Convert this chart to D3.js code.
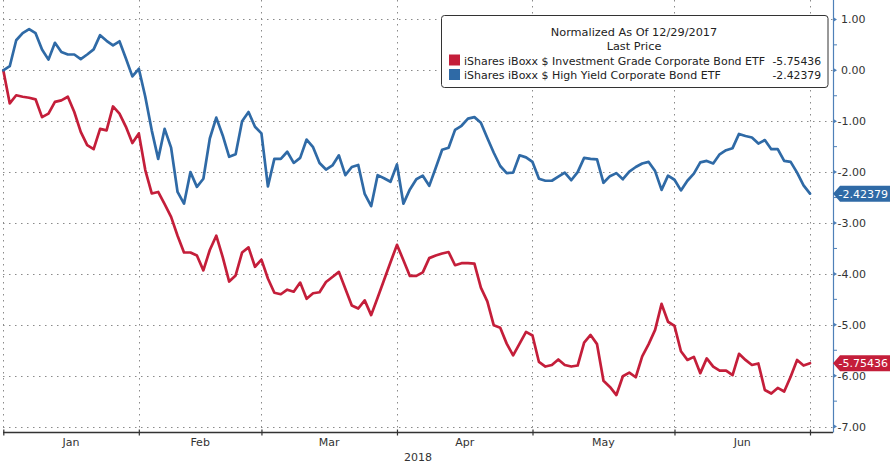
<!DOCTYPE html>
<html>
<head>
<meta charset="utf-8">
<script src="https://cdn.jsdelivr.net/npm/d3@7/dist/d3.min.js"></script>
<style>
html,body{margin:0;padding:0;background:#fff;}
svg{display:block;font-family:"DejaVu Sans",Verdana,sans-serif;}
</style>
</head>
<body>
<svg id="chart" width="890" height="466"></svg>
<script>
// ---- data (normalized % change since 12/29/2017, one value per trading day) ----
const highYield = [0, 0.08, 0.59, 0.73, 0.81, 0.73, 0.41, 0.21, 0.54, 0.36,
 0.31, 0.31, 0.22, 0.31, 0.41, 0.69, 0.58, 0.49, 0.57, 0.23,
 -0.12, 0.03, -0.52, -1.18, -1.74, -1.15, -1.52, -2.39, -2.62, -2.0,
 -2.29, -2.13, -1.34, -0.93, -1.28, -1.70, -1.65, -1.0, -0.82, -1.11,
 -1.24, -2.28, -1.74, -1.74, -1.60, -1.82, -1.72, -1.36, -1.51, -1.82,
 -1.95, -1.87, -1.67, -2.06, -1.90, -1.86, -2.43, -2.67, -2.06, -2.12,
 -2.19, -1.85, -2.62, -2.34, -2.14, -2.07, -2.27, -1.92, -1.56, -1.52,
 -1.17, -1.09, -0.95, -0.92, -1.03, -1.33, -1.62, -1.88, -2.02, -2.01,
 -1.67, -1.71, -1.80, -2.13, -2.17, -2.17, -2.09, -2.01, -2.16, -2.0,
 -1.72, -1.74, -1.75, -2.21, -2.08, -2.02, -2.14, -1.99, -1.90, -1.83,
 -1.80, -1.98, -2.35, -2.07, -2.15, -2.36, -2.17, -2.03, -1.81, -1.78,
 -1.83, -1.65, -1.57, -1.53, -1.25, -1.29, -1.32, -1.44, -1.37, -1.55,
 -1.55, -1.78, -1.80, -2.01, -2.26, -2.42379];

const investGrade = [0, -0.65, -0.49, -0.52, -0.54, -0.57, -0.92, -0.85, -0.62, -0.59,
 -0.52, -0.82, -1.21, -1.47, -1.55, -1.15, -1.18, -0.71, -0.85, -1.11,
 -1.43, -1.24, -1.96, -2.42, -2.39, -2.63, -2.88, -3.25, -3.58, -3.58,
 -3.64, -3.93, -3.53, -3.25, -3.67, -4.15, -4.03, -3.58, -3.48, -3.86,
 -3.72, -4.09, -4.37, -4.40, -4.31, -4.35, -4.17, -4.49, -4.38, -4.36,
 -4.16, -4.06, -3.96, -4.29, -4.62, -4.68, -4.52, -4.81, -4.47, -4.12,
 -3.77, -3.43, -3.73, -4.04, -4.04, -3.97, -3.69, -3.64, -3.60, -3.57,
 -3.83, -3.79, -3.79, -3.80, -4.27, -4.54, -5.01, -5.06, -5.37, -5.60,
 -5.37, -5.14, -5.21, -5.73, -5.82, -5.79, -5.68, -5.79, -5.82, -5.80,
 -5.35, -5.20, -5.38, -6.10, -6.22, -6.38, -6.01, -5.94, -6.03, -5.62,
 -5.38, -5.10, -4.59, -4.94, -5.02, -5.52, -5.69, -5.63, -5.95, -5.66,
 -5.82, -5.90, -5.90, -5.99, -5.57, -5.69, -5.79, -5.76, -6.28, -6.35,
 -6.24, -6.31, -6.02, -5.69, -5.80, -5.75436];

const seriesNames = ["iShares iBoxx $ Investment Grade Corporate Bond ETF",
                     "iShares iBoxx $ High Yield Corporate Bond ETF"];
const lastValues = ["-5.75436", "-2.42379"];
const legendTitle = ["Normalized As Of 12/29/2017", "Last Price"];
const monthLabels = ["Jan", "Feb", "Mar", "Apr", "May", "Jun"];
const monthBoundaryIdx = [0, 21, 40, 61, 82, 104, 125];   // trading-day index of month boundaries
const yearLabel = "2018";
const yTicks = [1, 0, -1, -2, -3, -4, -5, -6, -7];
const yMinorTicks = [0.5, -0.5, -1.5, -2.5, -3.5, -4.5, -5.5, -6.5];

// ---- layout ----
const RED = "#c41e3a", BLUE = "#2f6aa6", AXISBLUE = "#4f80b8";
const svg = d3.select("#chart");
const plotLeft = 3, plotRight = 833, plotTop = 0, axisY = 432.5;

const x = d3.scaleLinear().domain([0, 125]).range([3.3, 810]);
const y = d3.scaleLinear().domain([-7, 1]).range([426.6, 19.4]);

// gridlines
const grid = svg.append("g").attr("stroke", "#8a8a8a").attr("stroke-width", 1)
  .attr("stroke-dasharray", "1.5,4.5");
grid.selectAll("line.h").data(yTicks).join("line")
  .attr("x1", plotLeft).attr("x2", plotRight)
  .attr("y1", d => Math.round(y(d)) + 0.5).attr("y2", d => Math.round(y(d)) + 0.5);
grid.selectAll("line.v").data(monthBoundaryIdx).join("line")
  .attr("x1", d => Math.round(x(d)) + 0.5).attr("x2", d => Math.round(x(d)) + 0.5)
  .attr("y1", plotTop).attr("y2", axisY);

// lines
const line = d3.line().x((d, i) => x(i)).y(d => y(d));
svg.append("path").datum(investGrade).attr("d", line)
  .attr("fill", "none").attr("stroke", RED).attr("stroke-width", 2.7)
  .attr("stroke-linejoin", "round").attr("stroke-linecap", "round");
svg.append("path").datum(highYield).attr("d", line)
  .attr("fill", "none").attr("stroke", BLUE).attr("stroke-width", 2.7)
  .attr("stroke-linejoin", "round").attr("stroke-linecap", "round");

// bottom axis
const xAxis = d3.axisBottom(x).tickValues(monthBoundaryIdx).tickFormat("").tickSizeInner(4).tickSizeOuter(0);
const gx = svg.append("g").attr("transform", `translate(0,${axisY})`).call(xAxis);
gx.select(".domain").remove();
gx.selectAll(".tick line").attr("stroke", "#333").attr("stroke-width", 1.2).attr("y1", -3).attr("y2", 3);
svg.append("line").attr("x1", plotLeft).attr("x2", plotRight).attr("y1", axisY).attr("y2", axisY)
  .attr("stroke", "#333").attr("stroke-width", 1.5);
svg.append("g").selectAll("text").data(monthLabels).join("text")
  .attr("x", (d, i) => (x(monthBoundaryIdx[i]) + x(monthBoundaryIdx[i + 1])) / 2)
  .attr("y", 446).attr("text-anchor", "middle")
  .attr("font-size", 11).attr("fill", "#333").text(d => d);
svg.append("text").attr("x", (plotLeft + plotRight) / 2).attr("y", 461)
  .attr("text-anchor", "middle").attr("font-size", 11).attr("fill", "#333").text(yearLabel);

// right axis
const yAxis = d3.axisRight(y).tickValues(yTicks).tickFormat(d => d.toFixed(2)).tickSize(0).tickPadding(5);
const gy = svg.append("g").attr("transform", `translate(${plotRight},0)`).call(yAxis);
gy.select(".domain").remove();
gy.selectAll(".tick text").attr("font-size", 11).attr("fill", "#333")
  .attr("font-family", "DejaVu Sans, Verdana, sans-serif")
  .attr("x", d => d >= 0 ? 8 : 4.5);
svg.append("line").attr("x1", plotRight + 0.5).attr("x2", plotRight + 0.5)
  .attr("y1", 0).attr("y2", axisY).attr("stroke", AXISBLUE).attr("stroke-width", 1.2);
svg.append("g").selectAll("path").data(yTicks).join("path")
  .attr("d", d => `M${plotRight},${y(d) - 2.5}L${plotRight + 4},${y(d)}L${plotRight},${y(d) + 2.5}Z`)
  .attr("fill", AXISBLUE);
svg.append("g").selectAll("line").data(yMinorTicks).join("line")
  .attr("x1", plotRight).attr("x2", plotRight + 4)
  .attr("y1", d => y(d)).attr("y2", d => y(d))
  .attr("stroke", AXISBLUE).attr("stroke-width", 1);

// last-value badges
const badges = [
  { v: investGrade[investGrade.length - 1], label: lastValues[0], color: RED },
  { v: highYield[highYield.length - 1], label: lastValues[1], color: BLUE }
];
const bg = svg.append("g").selectAll("g").data(badges).join("g");
bg.append("path")
  .attr("d", d => { const c = y(d.v); return `M${plotRight},${c}L${plotRight + 7},${c - 8}L890,${c - 8}L890,${c + 8}L${plotRight + 7},${c + 8}Z`; })
  .attr("fill", d => d.color);
bg.append("text").attr("x", 888).attr("y", d => y(d.v) + 4).attr("text-anchor", "end")
  .attr("font-size", 11).attr("fill", "#fff").text(d => d.label);

// legend
const lg = svg.append("g");
lg.append("rect").attr("x", 441.5).attr("y", 15.5).attr("width", 386.5).attr("height", 72)
  .attr("rx", 3).attr("fill", "#fff").attr("stroke", "#333").attr("stroke-width", 1);
lg.selectAll("text.title").data(legendTitle).join("text")
  .attr("x", 634).attr("y", (d, i) => 35.5 + i * 14).attr("text-anchor", "middle")
  .attr("font-size", 11.3).attr("fill", "#222").text(d => d);
const rows = lg.selectAll("g.row").data(seriesNames).join("g")
  .attr("transform", (d, i) => `translate(0,${64.5 + i * 14.5})`);
rows.append("rect").attr("x", 449).attr("y", -10).attr("width", 11).attr("height", 11)
  .attr("fill", (d, i) => i === 0 ? RED : BLUE);
rows.append("text").attr("x", 464).attr("y", 0).attr("font-size", 11).attr("fill", "#222").text(d => d);
rows.append("text").attr("x", 821).attr("y", 0).attr("text-anchor", "end")
  .attr("font-size", 10.8).attr("fill", "#222").text((d, i) => lastValues[i]);
</script>
</body>
</html>
